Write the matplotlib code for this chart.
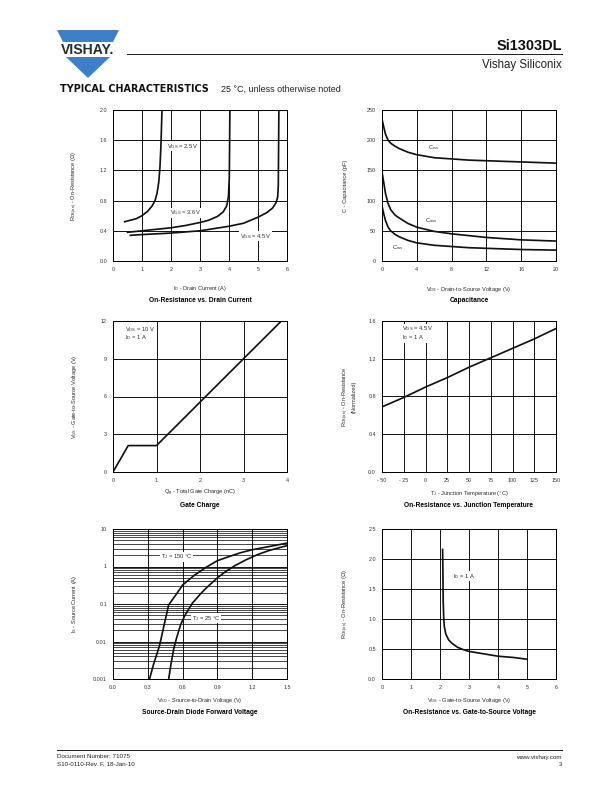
import numpy as np
import matplotlib
matplotlib.use("Agg")
import matplotlib.pyplot as plt
from matplotlib.patches import Polygon
from matplotlib.ticker import FixedLocator, LogLocator, NullFormatter

"""
Si1303DL datasheet page 3: typical characteristics
"""

plt.rcParams['font.family'] = ['Liberation Sans', 'DejaVu Sans']
plt.rcParams['mathtext.fontset'] = 'custom'
plt.rcParams['mathtext.rm'] = 'Liberation Sans'
plt.rcParams['mathtext.it'] = 'Liberation Sans'
plt.rcParams['mathtext.default'] = 'regular'

# On-Resistance vs. Drain Current
id_25 = [0.4, 0.6, 0.8, 1.0, 1.2, 1.35, 1.45, 1.52, 1.58, 1.62, 1.65, 1.67, 1.69]
rds_25 = [0.52, 0.54, 0.56, 0.60, 0.66, 0.73, 0.80, 0.90, 1.05, 1.25, 1.5, 1.75, 2.0]
id_36 = [0.5, 1.0, 1.5, 2.0, 2.5, 3.0, 3.3, 3.6, 3.8, 3.92, 3.98, 4.01, 4.02, 4.03]
rds_36 = [0.38, 0.40, 0.42, 0.44, 0.47, 0.51, 0.54, 0.59, 0.65, 0.73, 0.85, 1.1, 1.5, 2.0]
id_45 = [0.6, 1.0, 2.0, 3.0, 4.0, 4.5, 5.0, 5.3, 5.5, 5.62, 5.68, 5.70, 5.71, 5.72]
rds_45 = [0.34, 0.35, 0.37, 0.40, 0.46, 0.50, 0.58, 0.64, 0.70, 0.77, 0.85, 1.0, 1.5, 2.0]

# Capacitance
vds = [0, 0.2, 0.4, 0.7, 1, 1.5, 2, 3, 4, 6, 8, 10, 12, 16, 20]
ciss = [235, 222, 210, 200, 195, 190, 186, 180, 176, 171, 169, 167, 166, 164, 162]
coss = [148, 130, 112, 95, 85, 76, 71, 62, 56, 49, 45, 42, 39, 35, 33]
crss = [91, 78, 67, 56, 50, 44, 40, 34, 30, 26, 24, 22, 21, 19, 18]

# Gate Charge
qg = [0, 0.35, 1.0, 3.0, 3.87]
vgs_qg = [0, 2.1, 2.1, 9.0, 12.0]

# On-Resistance vs. Junction Temperature
tj = [-50, -25, 0, 25, 50, 75, 100, 125, 150]
rds_norm = [0.69, 0.79, 0.90, 1.00, 1.11, 1.21, 1.31, 1.41, 1.52]

# Source-Drain Diode Forward Voltage
vsd_150 = [0.315, 0.35, 0.40, 0.45, 0.48, 0.55, 0.60, 0.70, 0.80, 0.90, 1.0, 1.1, 1.2, 1.3, 1.4, 1.5]
is_150 = [0.001, 0.0025, 0.0075, 0.037, 0.095, 0.19, 0.32, 0.58, 0.94, 1.43, 1.84, 2.33, 2.8, 3.2, 3.66, 4.2]
vsd_25 = [0.48, 0.50, 0.525, 0.55, 0.583, 0.62, 0.684, 0.75, 0.8, 0.9, 0.97, 1.05, 1.145, 1.25, 1.35, 1.5]
is_25 = [0.001, 0.0025, 0.0067, 0.013, 0.028, 0.05, 0.105, 0.18, 0.26, 0.5, 0.73, 1.05, 1.5, 2.1, 2.7, 3.6]

# On-Resistance vs. Gate-to-Source Voltage
vgs = [2.09, 2.10, 2.11, 2.13, 2.15, 2.2, 2.3, 2.4, 2.6, 2.8, 3.0, 3.5, 4.0, 4.5, 5.0]
rds_vgs = [2.16, 1.8, 1.3, 1.0, 0.87, 0.75, 0.65, 0.6, 0.53, 0.49, 0.46, 0.42, 0.38, 0.36, 0.33]

W, H = 612, 792
LEFT_X, RIGHT_X, AX_W = 113, 382, 174
ROWS = [(110, 261), (321, 472), (529, 679)]

TICK_C = '#333333'
LBL_C = '#2a2a2a'
BOX = dict(facecolor='white', edgecolor='none', pad=0.6)
NOTE_FS = 5.8

fig = plt.figure(figsize=(W / 72, H / 72), dpi=72)

# page layer in pixel coordinates
page = fig.add_axes([0, 0, 1, 1])
page.set_xlim(0, W)
page.set_ylim(H, 0)
page.axis('off')


def make_ax(x, row):
    top, bot = ROWS[row]
    ax = fig.add_axes([x / W, 1 - bot / H, AX_W / W, (bot - top) / H])
    ax.tick_params(length=0, labelsize=5.4, pad=6, labelcolor=TICK_C)
    ax.tick_params(which='minor', length=0)
    for s in ax.spines.values():
        s.set_linewidth(1.0)
        s.set_color('black')
    ax.grid(True, color='black', lw=0.9)
    ax.grid(True, which='minor', color='black', lw=0.7)
    return ax


def labels(ax, xlab, ylab, title, xl_y, t_y, yl_x):
    ax.text(0.5, xl_y, xlab, transform=ax.transAxes, ha='center', va='center', fontsize=5.6, color=LBL_C)
    ax.text(yl_x, 0.5, ylab, transform=ax.transAxes, ha='center', va='center', rotation=90,
            fontsize=5.6, color=LBL_C, multialignment='center')
    ax.text(0.5, t_y, title, transform=ax.transAxes, ha='center', va='center', fontsize=6.6,
            fontweight='bold', color='black')


# 1: On-Resistance vs. Drain Current
ax1 = make_ax(LEFT_X, 0)
ax1.plot(id_25, rds_25, color='#111', lw=1.7)
ax1.plot(id_36, rds_36, color='#111', lw=1.7)
ax1.plot(id_45, rds_45, color='#111', lw=1.7)
ax1.set_xlim(0, 6)
ax1.set_ylim(0, 2.0)
ax1.set_xticks(range(0, 7))
ax1.set_yticks(np.arange(0, 2.01, 0.4))
ax1.set_yticklabels(['0.0', '0.4', '0.8', '1.2', '1.6', '2.0'])
ax1.text(1.86, 1.52, '$V_{GS}$ = 2.5 V', fontsize=NOTE_FS, color=LBL_C, va='center', bbox=BOX)
ax1.text(1.98, 0.64, '$V_{GS}$ = 3.6 V', fontsize=NOTE_FS, color=LBL_C, va='center', bbox=BOX)
ax1.text(4.38, 0.33, '$V_{GS}$ = 4.5 V', fontsize=NOTE_FS, color=LBL_C, va='center', bbox=BOX)
labels(ax1, '$I_D$ - Drain Current (A)', '$R_{DS(on)}$ - On-Resistance (Ω)',
       'On-Resistance vs. Drain Current', -0.18, -0.26, -0.22)

# 2: Capacitance
ax2 = make_ax(RIGHT_X, 0)
ax2.plot(vds, ciss, color='#111', lw=1.7)
ax2.plot(vds, coss, color='#111', lw=1.7)
ax2.plot(vds, crss, color='#111', lw=1.7)
ax2.set_xlim(0, 20)
ax2.set_ylim(0, 250)
ax2.set_xticks(range(0, 21, 4))
ax2.set_yticks(range(0, 251, 50))
ax2.text(5.3, 188, '$C_{iss}$', fontsize=NOTE_FS, color=LBL_C, va='center')
ax2.text(4.9, 67, '$C_{oss}$', fontsize=NOTE_FS, color=LBL_C, va='center')
ax2.text(1.2, 23, '$C_{rss}$', fontsize=NOTE_FS, color=LBL_C, va='center')
labels(ax2, '$V_{DS}$ - Drain-to-Source Voltage (V)', 'C - Capacitance (pF)',
       'Capacitance', -0.19, -0.26, -0.21)

# 3: Gate Charge
ax3 = make_ax(LEFT_X, 1)
ax3.plot(qg, vgs_qg, color='#111', lw=1.7)
ax3.set_xlim(0, 4)
ax3.set_ylim(0, 12)
ax3.set_xticks(range(0, 5))
ax3.set_yticks(range(0, 13, 3))
ax3.text(0.27, 11.0, '$V_{DS}$ = 10 V\n$I_D$ = 1 A', fontsize=NOTE_FS, color=LBL_C, va='center',
         linespacing=1.0, bbox=BOX)
labels(ax3, '$Q_g$ - Total Gate Charge (nC)', '$V_{GS}$ - Gate-to-Source Voltage (V)',
       'Gate Charge', -0.14, -0.22, -0.22)

# 4: On-Resistance vs. Junction Temperature
ax4 = make_ax(RIGHT_X, 1)
ax4.plot(tj, rds_norm, color='#111', lw=1.7)
ax4.set_xlim(-50, 150)
ax4.set_ylim(0, 1.6)
ax4.set_xticks(range(-50, 151, 25))
ax4.set_xticklabels(['- 50', '- 25', '0', '25', '50', '75', '100', '125', '150'])
ax4.set_yticks(np.arange(0, 1.61, 0.4))
ax4.set_yticklabels(['0.0', '0.4', '0.8', '1.2', '1.6'])
ax4.text(-27, 1.47, '$V_{GS}$ = 4.5 V\n$I_D$ = 1 A', fontsize=NOTE_FS, color=LBL_C, va='center',
         linespacing=1.0, bbox=BOX)
labels(ax4, '$T_J$ - Junction Temperature (°C)', '$R_{DS(on)}$ - On-Resistance\n(Normalized)',
       'On-Resistance vs. Junction Temperature', -0.14, -0.22, -0.19)

# 5: Source-Drain Diode Forward Voltage
ax5 = make_ax(LEFT_X, 2)
ax5.set_yscale('log')
ax5.plot(vsd_150, is_150, color='#111', lw=1.7)
ax5.plot(vsd_25, is_25, color='#111', lw=1.7)
ax5.set_xlim(0, 1.5)
ax5.set_ylim(0.001, 10)
ax5.set_xticks(np.arange(0, 1.51, 0.3))
ax5.set_xticklabels(['0.0', '0.3', '0.6', '0.9', '1.2', '1.5'])
ax5.yaxis.set_major_locator(FixedLocator([0.001, 0.01, 0.1, 1, 10]))
ax5.set_yticklabels(['0.001', '0.01', '0.1', '1', '10'])
ax5.yaxis.set_minor_locator(LogLocator(base=10, subs=np.arange(2, 10)))
ax5.yaxis.set_minor_formatter(NullFormatter())
ax5.tick_params(axis='y', which='minor', length=0)
ax5.grid(False, axis='x', which='minor')
ax5.text(0.41, 1.8, '$T_J$ = 150 °C', fontsize=NOTE_FS, color=LBL_C, va='center', bbox=BOX)
ax5.text(0.68, 0.042, '$T_J$ = 25 °C', fontsize=NOTE_FS, color=LBL_C, va='center', bbox=BOX)
labels(ax5, '$V_{SD}$ - Source-to-Drain Voltage (V)', '$I_S$ - Source Current (A)',
       'Source-Drain Diode Forward Voltage', -0.145, -0.225, -0.22)

# 6: On-Resistance vs. Gate-to-Source Voltage
ax6 = make_ax(RIGHT_X, 2)
ax6.plot(vgs, rds_vgs, color='#111', lw=1.7)
ax6.set_xlim(0, 6)
ax6.set_ylim(0, 2.5)
ax6.set_xticks(range(0, 7))
ax6.set_yticks(np.arange(0, 2.51, 0.5))
ax6.set_yticklabels(['0.0', '0.5', '1.0', '1.5', '2.0', '2.5'])
ax6.text(2.46, 1.71, '$I_D$ = 1 A', fontsize=NOTE_FS, color=LBL_C, va='center', bbox=BOX)
labels(ax6, '$V_{GS}$ - Gate-to-Source Voltage (V)', '$R_{DS(on)}$ - On-Resistance (Ω)',
       'On-Resistance vs. Gate-to-Source Voltage', -0.145, -0.225, -0.21)

# header: logo
blue = '#3d80c8'
page.add_patch(Polygon([[57, 30], [119, 30], [113, 42], [63, 42]], closed=True, color=blue, lw=0))
page.add_patch(Polygon([[66, 57], [110, 57], [88, 78]], closed=True, color=blue, lw=0))
page.text(88, 49.5, 'VISHAY.', fontsize=14, fontweight='bold', color='#2b2b2b',
          ha='center', va='center')

page.plot([127, 562], [54, 54], color='#222', lw=1.0)
page.text(562, 45.5, 'Si1303DL', fontsize=14.5, fontweight='bold', ha='right', va='center', color='#111')
page.text(562, 65, 'Vishay Siliconix', fontsize=11.5, ha='right', va='center', color='#222')
page.text(60, 89.5, 'TYPICAL CHARACTERISTICS', fontsize=9.6, fontweight='bold', ha='left', va='center',
          color='#111', family='DejaVu Sans')
page.text(221, 89.5, '25 °C, unless otherwise noted', fontsize=9.0, ha='left', va='center', color='#222')

# footer
page.plot([57, 562], [750, 750], color='#222', lw=1.0)
page.text(57, 757, 'Document Number: 71075', fontsize=6.2, ha='left', va='center', color='#222')
page.text(57, 764, 'S10-0110-Rev. F, 18-Jan-10', fontsize=6.2, ha='left', va='center', color='#222')
page.text(562, 757, 'www.vishay.com', fontsize=6.2, ha='right', va='center', color='#222')
page.text(562, 764, '3', fontsize=6.2, ha='right', va='center', color='#222')

fig.savefig('out.png', dpi=72)
